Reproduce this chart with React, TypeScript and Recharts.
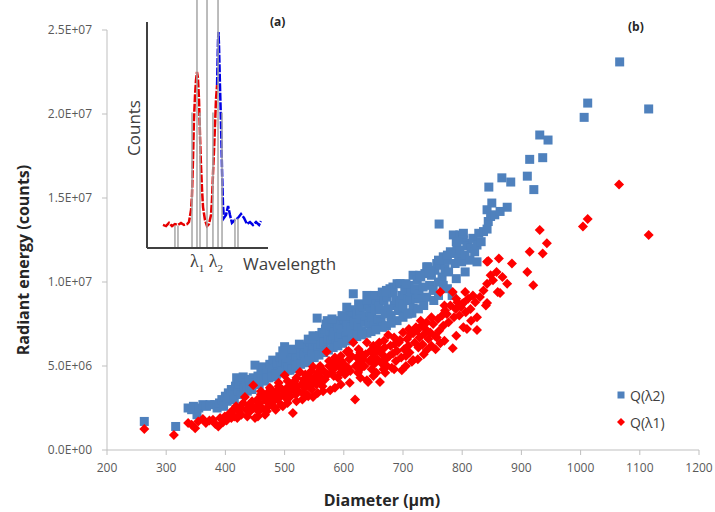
import React from "react"
import {
  ScatterChart,
  Scatter,
  XAxis,
  YAxis,
  LineChart,
  Line,
  ReferenceLine,
} from "recharts"

// main plot axes
const xTicks = [200, 300, 400, 500, 600, 700, 800, 900, 1000, 1100, 1200]
const yTicks = [0, 5e6, 1e7, 1.5e7, 2e7, 2.5e7]

// Q(λ2): [diameter µm, radiant energy in 1E+06 counts]
const q2Points: [number, number][] = [
  [263, 1.7], [316, 1.4], [337, 2.5], [343, 2.4], [346, 2.6], [352, 2.1], [355, 2.5], [362, 2.7],
  [368, 2.6], [374, 2.7], [382, 2.7], [386, 2.5], [390, 2.8], [394, 3.0], [397, 2.6], [400, 3.2],
  [403, 2.9], [405, 3.4], [408, 3.1], [410, 3.6], [413, 3.45], [415, 3.0], [417, 3.8], [419, 4.3],
  [421, 3.5], [423, 3.9], [426, 3.3], [428, 4.1], [430, 4.35], [432, 3.7], [435, 4.0], [437, 3.5],
  [440, 4.2], [442, 3.8], [445, 3.6], [447, 4.3], [450, 5.05], [452, 4.0],
  [455, 4.4], [457, 3.9], [460, 4.6], [462, 4.2], [464, 4.95], [466, 4.1], [468, 4.5], [471, 4.8],
  [473, 4.3], [475, 5.1], [478, 4.6], [480, 5.35], [482, 4.4], [485, 4.9], [487, 5.2], [489, 4.6],
  [492, 5.55], [494, 5.0], [496, 4.7], [498, 5.4], [500, 6.15], [502, 5.1],
  [504, 5.5], [506, 4.9], [509, 4.75], [510, 5.8], [512, 5.3], [515, 5.9], [517, 5.1], [519, 5.6],
  [521, 5.95], [523, 5.3], [526, 6.1], [528, 5.5], [530, 5.2], [532, 5.8], [535, 6.2], [537, 5.6],
  [539, 6.1], [541, 5.4], [543, 6.4], [546, 5.8], [548, 6.2], [550, 5.7],
  [553, 6.5], [555, 7.85], [557, 6.1], [559, 6.8], [561, 6.3], [563, 7.0], [565, 6.95], [567, 6.4],
  [569, 7.2], [572, 7.7], [574, 6.6], [576, 7.1], [578, 6.5], [580, 7.4], [582, 6.8], [584, 7.0],
  [586, 6.3], [588, 7.7], [590, 7.3], [592, 6.7], [594, 7.5], [596, 6.9], [598, 7.2],
  [601, 7.8], [603, 6.8], [605, 7.5], [607, 7.1], [609, 8.0], [611, 8.35], [613, 7.3], [615, 8.2],
  [616, 9.3], [618, 7.6], [620, 6.9], [622, 8.1], [624, 7.4], [627, 8.3], [629, 7.8], [631, 7.1],
  [633, 8.5], [635, 7.6], [637, 8.0], [639, 9.2], [639, 6.95], [641, 8.7], [643, 7.5], [645, 8.2],
  [647, 7.9], [649, 8.8],
  [651, 7.4], [653, 8.4], [655, 9.0], [657, 7.8], [659, 8.6], [661, 9.1], [661, 8.35], [663, 7.6],
  [664, 7.4], [666, 7.3], [668, 8.9], [670, 8.1], [673, 9.1], [675, 8.4], [678, 9.6], [680, 8.0],
  [683, 9.7], [683, 9.35], [685, 8.6], [688, 8.9], [690, 9.9], [690, 7.7], [692, 8.3], [695, 8.75],
  [695, 9.9], [698, 9.2],
  [700, 8.5], [703, 9.5], [705, 8.1], [708, 9.0], [710, 9.8], [712, 8.9], [712, 8.15], [714, 9.4],
  [715, 8.15], [717, 10.4], [717, 8.45], [720, 9.6], [722, 9.0], [724, 10.1], [727, 9.3], [730, 10.3],
  [732, 9.0], [734, 9.7], [737, 10.5], [740, 10.9], [740, 9.1], [742, 10.9], [745, 9.8], [748, 10.4],
  [751, 9.5], [754, 10.7], [757, 11.1], [760, 10.0], [761, 13.45], [763, 11.0], [766, 10.3], [768, 11.5],
  [768, 9.8], [771, 10.8], [774, 11.3], [777, 10.6], [780, 11.8], [783, 11.7], [783, 9.2], [785, 12.8],
  [788, 11.1], [791, 12.2], [794, 11.5], [796, 11.9], [796, 12.8], [799, 11.2], [802, 12.9], [802, 12.5],
  [805, 11.6], [808, 12.3], [810, 12.15], [813, 11.3], [815, 12.0], [818, 12.6], [821, 11.8], [825, 12.2],
  [825, 11.2], [828, 12.9], [832, 12.4], [836, 13.0], [842, 13.15], [844, 13.6], [842, 14.3], [845, 15.65],
  [848, 13.9], [850, 14.7],
  [855, 14.0], [864, 14.2], [867, 16.2], [876, 14.45], [882, 15.95], [910, 16.3], [914, 17.3], [921, 15.5],
  [931, 18.75], [936, 17.4], [945, 18.45], [1006, 19.8], [1012, 20.65], [1066, 23.1], [1115, 20.3],
  // band edges
  [470, 4.3], [478, 4.35], [486, 4.5], [495, 4.6], [505, 4.75], [513, 4.85], [520, 5.0], [527, 5.1],
  [534, 5.2], [542, 5.3], [550, 5.5], [558, 5.65], [566, 5.8], [574, 5.95], [582, 6.1], [590, 6.2],
  [598, 6.35], [606, 6.5], [614, 6.6], [622, 6.75], [630, 6.85], [646, 7.05], [654, 7.15], [672, 7.4],
  [680, 7.55], [700, 7.9], [708, 8.1], [726, 8.4], [735, 8.6], [752, 8.9], [760, 9.2], [775, 9.6],
  [790, 10.2], [805, 10.6],
  [497, 5.9], [512, 6.0], [525, 6.3], [540, 6.6], [548, 6.8], [570, 7.5], [580, 7.8], [597, 8.0],
  [605, 8.5], [625, 8.7], [640, 8.9], [652, 9.2], [665, 9.4], [672, 9.5], [705, 9.9], [728, 10.4],
  [745, 10.6], [760, 11.3], [775, 11.6], [790, 12.4],
]

// Q(λ1): [diameter µm, radiant energy in 1E+06 counts]
const q1Points: [number, number][] = [
  [263, 1.25], [313, 0.9], [337, 1.6], [343, 1.5], [349, 1.3], [354, 1.7], [362, 1.85], [367, 1.6],
  [373, 1.75], [379, 1.8], [383, 1.55], [388, 1.4], [391, 1.9], [396, 1.65], [399, 2.0],
  [402, 1.75], [405, 2.1], [408, 2.2], [410, 1.9], [413, 2.4], [415, 2.0], [418, 2.6], [420, 1.9],
  [422, 2.3], [425, 2.55], [427, 2.1], [430, 2.8], [433, 3.15], [435, 2.4], [437, 2.0], [440, 2.7],
  [442, 2.3], [445, 2.9], [447, 3.85], [448, 2.5], [450, 1.9],
  [452, 2.6], [454, 3.0], [456, 2.3], [458, 2.8], [460, 3.3], [462, 2.5], [464, 3.15], [467, 2.1],
  [469, 2.9], [471, 3.4], [473, 2.6], [475, 3.1], [477, 3.6], [480, 2.85], [482, 3.3], [484, 2.5],
  [486, 3.5], [488, 3.0], [490, 3.8], [492, 3.2], [494, 2.7], [496, 3.6], [498, 3.3], [500, 4.45],
  [502, 3.1], [504, 3.7], [506, 3.4], [509, 3.15], [511, 3.9], [514, 2.2], [515, 3.6], [517, 4.1],
  [519, 3.3], [521, 3.8], [523, 3.5], [526, 4.65], [528, 3.9], [530, 3.4], [532, 4.2], [534, 3.7],
  [536, 4.0], [538, 3.3], [540, 4.4], [542, 3.8], [544, 4.2], [546, 3.6], [548, 3.15], [548, 4.95],
  [550, 4.0],
  [552, 4.4], [554, 3.9], [556, 4.6], [558, 4.1], [560, 4.8], [562, 4.3], [564, 3.8], [566, 4.7],
  [568, 4.2], [571, 5.85], [573, 4.5], [575, 5.0], [577, 3.55], [579, 4.6], [581, 5.2], [583, 4.4],
  [585, 4.9], [588, 5.35], [590, 4.3], [592, 5.0], [594, 4.6], [596, 5.3], [598, 4.8],
  [600, 5.1], [602, 4.5], [605, 5.85], [607, 4.9], [609, 5.4], [611, 4.7], [613, 5.6], [616, 6.4],
  [619, 3.0], [620, 5.0], [622, 5.5], [624, 4.6], [626, 5.2], [628, 5.8], [630, 4.9], [632, 5.4],
  [635, 5.0], [637, 5.7], [639, 6.4], [639, 4.15], [641, 4.05], [643, 5.3], [645, 5.9], [647, 4.8],
  [649, 5.5],
  [651, 5.1], [653, 5.8], [655, 4.6], [657, 5.4], [659, 6.0], [661, 4.05], [663, 5.2], [665, 5.7],
  [667, 4.8], [669, 6.1], [671, 5.4], [673, 5.0], [675, 6.85], [677, 5.6], [679, 6.2], [681, 4.9],
  [683, 5.75], [686, 6.3], [688, 5.3], [690, 5.9], [693, 6.4], [695, 6.55], [697, 5.5], [698, 4.75],
  [700, 7.0], [702, 6.0], [705, 5.6], [707, 6.6], [709, 6.2], [711, 5.8], [713, 6.9], [715, 5.25],
  [717, 5.35], [717, 6.95], [720, 6.4], [722, 7.3], [724, 7.1], [726, 6.1], [728, 6.7], [731, 7.4],
  [733, 6.3], [736, 6.9], [738, 7.2], [740, 7.6], [740, 5.95], [743, 6.6], [746, 7.0], [748, 6.2],
  [751, 7.5], [754, 6.8], [757, 6.7], [759, 7.8], [761, 7.1], [763, 6.35], [763, 9.4], [766, 8.0],
  [768, 7.4], [771, 8.3], [774, 8.1], [777, 7.6], [780, 8.6], [784, 9.4], [784, 6.05], [786, 7.9],
  [789, 8.4], [792, 8.8], [795, 8.0], [798, 8.5], [800, 8.7],
  [802, 7.3], [802, 8.75], [806, 8.2], [810, 9.0], [814, 8.4], [815, 7.7], [818, 9.2], [822, 8.8],
  [825, 7.9], [825, 7.15], [830, 9.1], [836, 9.5], [840, 8.6], [842, 8.75], [842, 9.9], [842, 11.2],
  [844, 11.25], [848, 10.4], [852, 10.1],
  [858, 10.6], [860, 9.4], [862, 11.4], [864, 9.35], [868, 10.3], [876, 9.9], [884, 11.1], [910, 10.6],
  [914, 11.8], [920, 9.8], [931, 13.1], [936, 11.7], [943, 12.3], [1004, 13.3], [1012, 13.75],
  [1065, 15.8], [1115, 12.8],
  // band edges
  [455, 2.0], [470, 2.3], [485, 2.4], [497, 2.6], [505, 2.8], [520, 2.9], [530, 3.0], [540, 3.2],
  [556, 3.4], [565, 3.5], [585, 3.7], [595, 3.9], [610, 4.0], [628, 4.3], [650, 4.4], [670, 4.6],
  [685, 4.8], [705, 5.0], [725, 5.4], [735, 5.7], [755, 6.0], [770, 6.5], [790, 6.8], [808, 7.2],
  [460, 3.5], [475, 3.7], [490, 4.0], [505, 4.1], [520, 4.3], [535, 4.5], [545, 4.7], [560, 5.0],
  [575, 5.3], [585, 5.5], [595, 5.6], [608, 5.9], [625, 6.0], [650, 6.2], [660, 6.4], [668, 6.5],
  [685, 6.7], [710, 7.2], [730, 7.7], [748, 7.9], [770, 8.6], [790, 9.0], [805, 9.4],
]

// inset spectrum: [wavelength (0-100 scale), counts (0-100 scale)]
const redSpectrum: [number, number][] = [
  [13.2, 10.2], [15.7, 9.7], [18.2, 11.1], [20.7, 9.7], [23.1, 10.6], [25.6, 10.2], [28.1, 11.1],
  [30.6, 10.2], [33.1, 10.6], [34.7, 11.5], [36.4, 16.8], [37.2, 23.5], [38.0, 39], [38.8, 56.6],
  [39.7, 67.7], [40.5, 74.3], [41.3, 77.9], [42.1, 75.2], [43.0, 65.5], [43.8, 50], [44.6, 36.7],
  [45.5, 25.7], [46.3, 18.1], [47.9, 12.4], [49.6, 9.7], [51.2, 10.6], [52.9, 14.6], [53.7, 21.2],
  [54.5, 32.3], [55.4, 43.4], [56.2, 54.4], [57.0, 65.5], [57.9, 72.1],
]
const blueSpectrum: [number, number][] = [
  [57.9, 72.1], [58.7, 92], [59.1, 95.6], [59.5, 89.8], [60.3, 72.1], [61.2, 54.4], [62.0, 34.5],
  [62.8, 19], [63.6, 13.3], [65.3, 14.6], [67.0, 18.6], [68.6, 14.6], [70.2, 11.1], [72.7, 12.4],
  [75.2, 13.3], [77.7, 15], [80.2, 13.3], [82.6, 10.6], [85.1, 11.5], [87.6, 10.2], [90.1, 11.5],
  [92.6, 10.2], [94.2, 11.9],
]
// gray marker lines: [wavelength, top counts]
const markerLines: [number, number][] = [
  [23.1, 10], [25.6, 10], [37.2, 60], [41.3, 110], [43.8, 60], [49.6, 110],
  [54.5, 60], [58.7, 110], [62.0, 60], [72.7, 13], [75.2, 13],
]

const FONT = "'Open Sans', 'Liberation Sans', sans-serif"
const BLUE = "#4F81BD"
const RED = "#FF0000"

const q2Rows = q2Points.map(([d, e]) => ({ d, e: e * 1e6 }))
const q1Rows = q1Points.map(([d, e]) => ({ d, e: e * 1e6 }))
const redRows = redSpectrum.map(([w, c]) => ({ w, c }))
const blueRows = blueSpectrum.map(([w, c]) => ({ w, c }))

function sci(v: number) {
  const [m, ex] = v.toExponential(1).split("e")
  const n = parseInt(ex, 10)
  return `${m}E${n < 0 ? "-" : "+"}${String(Math.abs(n)).padStart(2, "0")}`
}

const Square = (props: any) => {
  const { cx, cy } = props
  if (cx == null || cy == null) return null
  return <rect x={cx - 4.5} y={cy - 4.5} width={9} height={9} fill={BLUE} />
}

const Diamond = (props: any) => {
  const { cx, cy } = props
  if (cx == null || cy == null) return null
  const r = 5
  return <polygon points={`${cx},${cy - r} ${cx + r},${cy} ${cx},${cy + r} ${cx - r},${cy}`} fill={RED} />
}

const legendRows = [
  { name: "Q(λ2)", color: BLUE, shape: "square" },
  { name: "Q(λ1)", color: RED, shape: "diamond" },
]

function LegendBox() {
  return (
    <div style={{ position: "absolute", left: 614, top: 384, fontFamily: FONT, fontSize: 14, color: "#404040" }}>
      {legendRows.map((r) => (
        <div key={r.name} style={{ display: "flex", alignItems: "center", height: 22, marginBottom: 5 }}>
          <svg width={14} height={14} style={{ marginRight: 2 }}>
            {r.shape === "square" ? (
              <rect x={3.5} y={3.5} width={7} height={7} fill={r.color} />
            ) : (
              <polygon points="7,3 11,7 7,11 3,7" fill={r.color} />
            )}
          </svg>
          <span>{r.name}</span>
        </div>
      ))}
    </div>
  )
}

export default function App() {
  const tickStyle = { fill: "#595959", fontSize: 12, fontFamily: FONT }
  return (
    <div style={{ position: "absolute", left: 0, top: 0, width: 715, height: 512, background: "#fff" }}>
      <ScatterChart width={715} height={512} margin={{ top: 30, right: 16, bottom: 0, left: 0 }}>
        <XAxis
          type="number"
          dataKey="d"
          domain={[200, 1200]}
          ticks={xTicks}
          height={62}
          tickSize={5}
          tickMargin={8}
          axisLine={{ stroke: "#bfbfbf" }}
          tickLine={{ stroke: "#bfbfbf" }}
          tick={tickStyle}
          label={() => (
            <text x={382} y={506} textAnchor="middle" fontFamily={FONT} fontSize={16} fontWeight="bold" fill="#262626">
              Diameter (µm)
            </text>
          )}
        />
        <YAxis
          type="number"
          dataKey="e"
          domain={[0, 2.5e7]}
          ticks={yTicks}
          width={107}
          tickSize={5}
          tickMargin={10}
          tickFormatter={sci}
          axisLine={{ stroke: "#bfbfbf" }}
          tickLine={{ stroke: "#bfbfbf" }}
          tick={tickStyle}
          label={() => (
            <text
              x={23}
              y={260}
              transform="rotate(-90 23 260)"
              textAnchor="middle"
              dominantBaseline="central"
              fontFamily={FONT}
              fontSize={16}
              fontWeight="bold"
              fill="#262626"
            >
              Radiant energy (counts)
            </text>
          )}
        />
        <Scatter name="Q(λ2)" data={q2Rows} fill={BLUE} shape={Square} isAnimationActive={false} />
        <Scatter name="Q(λ1)" data={q1Rows} fill={RED} shape={Diamond} isAnimationActive={false} />
      </ScatterChart>

      <LegendBox />

      <div style={{ position: "absolute", left: 0, top: 0 }}>
        <LineChart width={300} height={280} margin={{ top: 22, right: 32, bottom: 32, left: 147 }}>
          <XAxis type="number" dataKey="w" domain={[0, 100]} hide />
          <YAxis type="number" dataKey="c" domain={[0, 100]} hide />
          <Line data={redRows} dataKey="c" stroke="#e60000" strokeWidth={2.5} strokeDasharray="8 1.5" dot={false} isAnimationActive={false} />
          <Line data={blueRows} dataKey="c" stroke="#0000e6" strokeWidth={2.5} strokeDasharray="8 1.5" dot={false} isAnimationActive={false} />
          {markerLines.map(([w, top]) => (
            <ReferenceLine
              key={w}
              segment={[{ x: w, y: 0 }, { x: w, y: top }]}
              stroke="#a6a6a6"
              strokeWidth={1.5}
              ifOverflow="visible"
            />
          ))}
          <ReferenceLine x={0} stroke="#404040" strokeWidth={2} />
          <ReferenceLine y={0} stroke="#404040" strokeWidth={2} />
        </LineChart>
      </div>

      <div style={{ position: "absolute", left: 133, top: 128, transform: "translate(-50%, -50%) rotate(-90deg)", fontFamily: FONT, fontSize: 17, color: "#404040", whiteSpace: "nowrap" }}>
        Counts
      </div>
      <div style={{ position: "absolute", left: 190, top: 251, fontFamily: "'Liberation Serif', serif", fontSize: 18, color: "#404040", whiteSpace: "nowrap" }}>
        λ<sub style={{ fontSize: 11 }}>1</sub> λ<sub style={{ fontSize: 11 }}>2</sub>
      </div>
      <div style={{ position: "absolute", left: 243, top: 252, fontFamily: FONT, fontSize: 17, color: "#404040", whiteSpace: "nowrap" }}>
        Wavelength
      </div>
      <div style={{ position: "absolute", left: 270, top: 13, fontFamily: FONT, fontSize: 12, fontWeight: "bold", color: "#262626" }}>
        (a)
      </div>
      <div style={{ position: "absolute", left: 628, top: 18, fontFamily: FONT, fontSize: 12, fontWeight: "bold", color: "#262626" }}>
        (b)
      </div>
    </div>
  )
}
